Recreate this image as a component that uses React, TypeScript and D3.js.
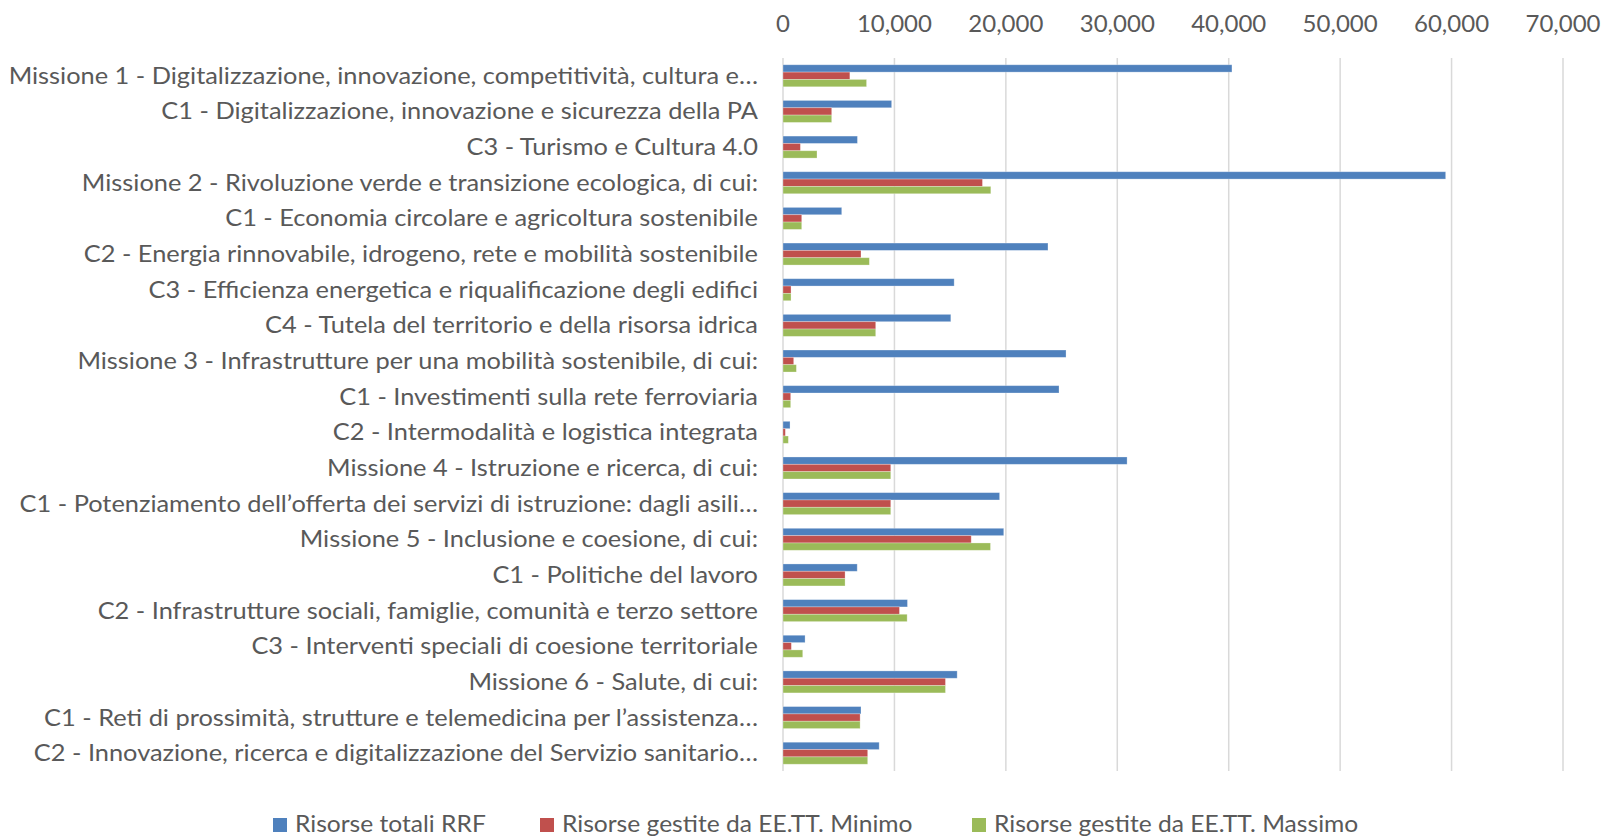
import * as d3 from "d3";

const categories = [
	"Missione 1 - Digitalizzazione, innovazione, competitività, cultura e…",
	"C1 - Digitalizzazione, innovazione e sicurezza della PA",
	"C3 - Turismo e Cultura 4.0",
	"Missione 2 - Rivoluzione verde e transizione ecologica, di cui:",
	"C1 - Economia circolare e agricoltura sostenibile",
	"C2 - Energia rinnovabile, idrogeno, rete e mobilità sostenibile",
	"C3 - Efficienza energetica e riqualificazione degli edifici",
	"C4 - Tutela del territorio e della risorsa idrica",
	"Missione 3 - Infrastrutture per una mobilità sostenibile, di cui:",
	"C1 - Investimenti sulla rete ferroviaria",
	"C2 - Intermodalità e logistica integrata",
	"Missione 4 - Istruzione e ricerca, di cui:",
	"C1 - Potenziamento dell’offerta dei servizi di istruzione: dagli asili…",
	"Missione 5 - Inclusione e coesione, di cui:",
	"C1 - Politiche del lavoro",
	"C2 - Infrastrutture sociali, famiglie, comunità e terzo settore",
	"C3 - Interventi speciali di coesione territoriale",
	"Missione 6 - Salute, di cui:",
	"C1 - Reti di prossimità, strutture e telemedicina per l’assistenza…",
	"C2 - Innovazione, ricerca e digitalizzazione del Servizio sanitario…",
];

const totaliRRF = [
	40290, 9750, 6680, 59470, 5270, 23780, 15360, 15060, 25400, 24770, 630,
	30880, 19440, 19810, 6660, 11170, 1980, 15630, 7000, 8630,
];
const gestiteMinimo = [
	6000, 4370, 1560, 17900, 1680, 7000, 720, 8320, 960, 690, 210, 9670, 9670,
	16890, 5570, 10450, 750, 14580, 6920, 7600,
];
const gestiteMassimo = [
	7500, 4370, 3050, 18650, 1680, 7750, 720, 8320, 1200, 690, 480, 9670, 9670,
	18620, 5570, 11140, 1770, 14580, 6920, 7600,
];

const seriesNames = [
	"Risorse totali RRF",
	"Risorse gestite da EE.TT. Minimo",
	"Risorse gestite da EE.TT. Massimo",
];
const seriesColors = ["#4F81BD", "#C0504D", "#9BBB59"];
const tickValues = [0, 10000, 20000, 30000, 40000, 50000, 60000, 70000];

// stretch text a bit horizontally so Lato matches the wider original font
function stretch(ax: number, k: number) {
	return `translate(${ax},0) scale(${k},1) translate(${-ax},0)`;
}

function App() {
	const width = 1604;
	const height = 836;
	const left = 783;
	const right = 1563;
	const top = 58;
	const bottom = 771;
	const textColor = "#595959";
	const font = "Lato, 'Open Sans', sans-serif";

	const x = d3.scaleLinear().domain([0, 70000]).range([left, right]);
	const y = d3
		.scaleBand<string>()
		.domain(categories)
		.range([top, bottom])
		.paddingInner(0.383)
		.paddingOuter(0.19);
	const inner = d3
		.scaleBand<number>()
		.domain([0, 1, 2])
		.range([0, y.bandwidth()]);
	const series = [totaliRRF, gestiteMinimo, gestiteMassimo];
	const fmt = d3.format(",");

	const legendX = [273, 540, 972];

	return (
		<svg
			width={width}
			height={height}
			style={{ position: "absolute", left: 0, top: 0, background: "#fff" }}
			fontFamily={font}
		>
			{tickValues.map((t) => (
				<g key={t}>
					<line
						x1={x(t)}
						x2={x(t)}
						y1={top}
						y2={bottom}
						stroke="#D9D9D9"
						strokeWidth={1.5}
					/>
					<text
						x={x(t)}
						y={32}
						textAnchor="middle"
						fontSize={24}
						fill={textColor}
					>
						{fmt(t)}
					</text>
				</g>
			))}
			{categories.map((c, i) => (
				<g key={c}>
					<text
						x={758}
						y={(y(c) as number) + y.bandwidth() / 2 + 8}
						textAnchor="end"
						fontSize={24}
						fill={textColor}
						transform={stretch(758, 1.058)}
					>
						{c}
					</text>
					{series.map((s, k) => (
						<rect
							key={k}
							x={x(0)}
							y={(y(c) as number) + (inner(k) as number)}
							width={x(s[i]) - x(0)}
							height={inner.bandwidth()}
							fill={seriesColors[k]}
							stroke="#ffffff"
							strokeOpacity={0.35}
							strokeWidth={0.8}
						/>
					))}
				</g>
			))}
			{seriesNames.map((n, k) => (
				<g key={n}>
					<rect
						x={legendX[k]}
						y={818}
						width={14}
						height={14}
						fill={seriesColors[k]}
					/>
					<text
						x={legendX[k] + 22}
						y={832}
						fontSize={24}
						fill={textColor}
						transform={stretch(legendX[k] + 22, 1.025)}
					>
						{n}
					</text>
				</g>
			))}
		</svg>
	);
}

export default App;
